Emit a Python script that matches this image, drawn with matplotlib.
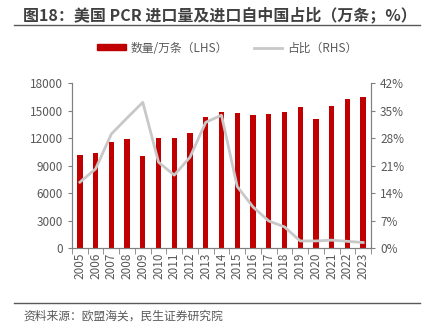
import numpy as np
import matplotlib.pyplot as plt
from matplotlib.lines import Line2D
from matplotlib.patches import Patch

plt.rcParams['font.family'] = ['Noto Sans CJK SC', 'DejaVu Sans']

# data
years = [str(y) for y in range(2005, 2024)]
volume = [10200, 10400, 11600, 11900, 10050, 12000, 12050, 12600, 14350, 14900,
          14750, 14550, 14700, 14900, 15450, 14100, 15550, 16300, 16500]
share = [16.8, 20.2, 29.1, 33.2, 37.2, 21.9, 18.6, 23.2, 32.1, 33.9,
         15.7, 10.5, 6.9, 5.4, 1.8, 1.8, 2.0, 1.7, 1.4]

red = '#C00000'
grey_line = '#C8C8C8'
txt = '#595959'
axc = '#808080'

fig = plt.figure(figsize=(4.3, 3.36), dpi=100)
ax = fig.add_axes([0.1674, 0.2619, 0.6954, 0.4896])
x = np.arange(len(years))
ax.bar(x, volume, width=0.34, color=red, zorder=2)
ax.set_xlim(-0.5, len(years) - 0.5)
ax.set_ylim(0, 18000)
ax.set_yticks(np.arange(0, 18001, 3000))
ax.set_xticks(x)
ax.set_xticklabels(years, rotation=90)
ax.set_xticks(np.arange(-0.5, len(years), 1), minor=True)
ax.tick_params(axis='x', which='major', length=0, pad=3, labelsize=8.5, labelcolor=txt)
ax.tick_params(axis='x', which='minor', length=4, color=axc, direction='out')
ax.tick_params(axis='y', length=3, color=axc, labelsize=8.5, labelcolor=txt)

ax2 = ax.twinx()
ax2.plot(x, share, color=grey_line, lw=2, zorder=3)
ax2.set_ylim(0, 42)
ax2.set_yticks(np.arange(0, 43, 7))
ax2.set_yticklabels([f'{v}%' for v in range(0, 43, 7)])
ax2.tick_params(axis='y', length=3, color=axc, labelsize=8.5, labelcolor=txt)

for a in (ax, ax2):
    a.spines['top'].set_visible(False)
    for s in ('left', 'right', 'bottom'):
        a.spines[s].set_color(axc)
        a.spines[s].set_linewidth(0.8)

handles = [Patch(color=red), Line2D([0], [0], color=grey_line, lw=2)]
fig.legend(handles, ['数量/万条（LHS）', '占比（RHS）'], loc='center',
           bbox_to_anchor=(0.528, 1 - 48 / 336), ncol=2, frameon=False,
           fontsize=8.5, labelcolor=txt, handlelength=2.4, handleheight=0.45,
           handletextpad=0.4, columnspacing=2.2)

fig.text(23 / 430, 1 - 15 / 336, '图18：美国 PCR 进口量及进口自中国占比（万条；%）',
         fontsize=11.5, fontweight='bold', color='#404040', va='center')
fig.add_artist(Line2D([14 / 430, 420 / 430], [1 - 25 / 336] * 2, color='#595959', lw=1))
fig.add_artist(Line2D([14 / 430, 420 / 430], [1 - 303 / 336] * 2, color='#595959', lw=1))
fig.text(23 / 430, 1 - 316 / 336, '资料来源：欧盟海关，民生证券研究院',
         fontsize=8.5, color=txt, va='center')

fig.savefig('out.png', dpi=100)
